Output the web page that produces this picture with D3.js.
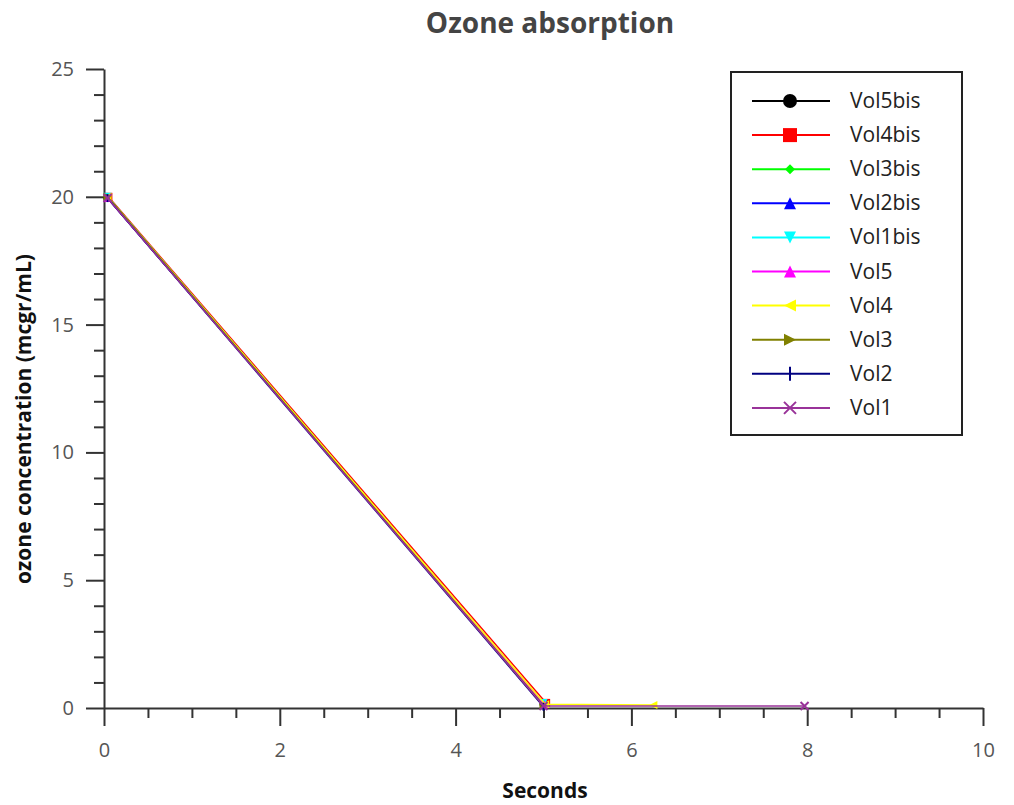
<!DOCTYPE html>
<html>
<head>
<meta charset="utf-8">
<script src="https://cdn.jsdelivr.net/npm/d3@7"></script>
<style>
  body { margin: 0; background: #fff; }
  text { font-family: "Open Sans", "DejaVu Sans", sans-serif; }
</style>
</head>
<body>
<div id="chart"></div>
<script>
// data
const seriesNames = ["Vol5bis", "Vol4bis", "Vol3bis", "Vol2bis", "Vol1bis", "Vol5", "Vol4", "Vol3", "Vol2", "Vol1"];
const seriesColors = ["#000000", "#ff0000", "#00ff00", "#0000ff", "#00ffff", "#ff00ff", "#ffff00", "#808000", "#000080", "#993399"];
const seriesMarkers = ["circle", "square", "diamond", "triangleUp", "triangleDown", "triangleUp", "triangleLeft", "triangleRight", "plus", "cross"];
const seriesX = [
  [0.04, 5.0],
  [0.05, 5.03],
  [0.04, 5.0],
  [0.04, 5.0],
  [0.04, 5.0],
  [0.04, 5.01],
  [0.04, 5.02, 6.25],
  [0.04, 5.0],
  [0.04, 5.0],
  [0.04, 5.0, 7.97]
];
const seriesY = [
  [19.95, 0.15],
  [20.0, 0.2],
  [20.0, 0.15],
  [19.95, 0.15],
  [20.0, 0.2],
  [19.95, 0.15],
  [20.0, 0.15, 0.12],
  [20.0, 0.1],
  [19.95, 0.05],
  [19.95, 0.08, 0.08]
];
const xTicks = [0, 2, 4, 6, 8, 10];
const yTicks = [0, 5, 10, 15, 20, 25];

const width = 1014, height = 805;
const margin = { top: 69, left: 104, right: 31, bottom: 97 };

const svg = d3.select("#chart").append("svg")
  .attr("width", width)
  .attr("height", height);

const xScale = d3.scaleLinear().domain([0, 10]).range([margin.left, width - margin.right]);
const yScale = d3.scaleLinear().domain([0, 25]).range([height - margin.bottom, margin.top]);

// axes: major ticks with labels, then minor ticks
const axisColor = "#333";
svg.append("g")
  .attr("transform", `translate(0,${height - margin.bottom})`)
  .call(d3.axisBottom(xScale).tickValues(xTicks).tickSize(18).tickPadding(17).tickSizeOuter(0));
svg.append("g")
  .attr("transform", `translate(0,${height - margin.bottom})`)
  .call(d3.axisBottom(xScale).tickValues(d3.range(0, 10.01, 0.5).filter(v => v % 2 !== 0)).tickSize(10).tickFormat("").tickSizeOuter(0))
  .select(".domain").remove();

svg.append("g")
  .attr("transform", `translate(${margin.left},0)`)
  .call(d3.axisLeft(yScale).tickValues(yTicks).tickSize(18).tickPadding(12).tickSizeOuter(0));
svg.append("g")
  .attr("transform", `translate(${margin.left},0)`)
  .call(d3.axisLeft(yScale).tickValues(d3.range(0, 25.01, 1).filter(v => v % 5 !== 0)).tickSize(10).tickFormat("").tickSizeOuter(0))
  .select(".domain").remove();

svg.selectAll(".domain").attr("stroke", axisColor).attr("stroke-width", 2);
svg.selectAll(".tick line").attr("stroke", axisColor).attr("stroke-width", 2);
svg.selectAll(".tick text").attr("fill", "#555").style("font-size", "20px");

// titles
svg.append("text")
  .attr("x", 550).attr("y", 33)
  .attr("text-anchor", "middle")
  .attr("fill", "#444")
  .style("font-size", "28px").style("font-weight", "bold")
  .text("Ozone absorption");

svg.append("text")
  .attr("x", 545).attr("y", 798)
  .attr("text-anchor", "middle")
  .attr("fill", "#111")
  .style("font-size", "21px").style("font-weight", "bold")
  .text("Seconds");

svg.append("text")
  .attr("transform", "rotate(-90)")
  .attr("x", -419).attr("y", 31)
  .attr("text-anchor", "middle")
  .attr("fill", "#111")
  .style("font-size", "21px").style("font-weight", "bold")
  .text("ozone concentration (mcgr/mL)");

// markers
function marker(g, type, color, size) {
  const s = size;
  if (type === "circle") {
    g.append("circle").attr("r", s).attr("fill", color);
  } else if (type === "square") {
    g.append("rect").attr("x", -s).attr("y", -s).attr("width", 2 * s).attr("height", 2 * s).attr("fill", color);
  } else if (type === "diamond") {
    g.append("path").attr("d", `M0,${-s}L${s},0L0,${s}L${-s},0Z`).attr("fill", color);
  } else if (type === "triangleUp") {
    g.append("path").attr("d", `M0,${-s}L${s},${s}L${-s},${s}Z`).attr("fill", color);
  } else if (type === "triangleDown") {
    g.append("path").attr("d", `M0,${s}L${s},${-s}L${-s},${-s}Z`).attr("fill", color);
  } else if (type === "triangleLeft") {
    g.append("path").attr("d", `M${-s},0L${s},${-s}L${s},${s}Z`).attr("fill", color);
  } else if (type === "triangleRight") {
    g.append("path").attr("d", `M${s},0L${-s},${-s}L${-s},${s}Z`).attr("fill", color);
  } else if (type === "plus") {
    g.append("path").attr("d", `M0,${-s}V${s}`).attr("stroke", color).attr("stroke-width", 2);
  } else if (type === "cross") {
    g.append("path").attr("d", `M${-s},${-s}L${s},${s}M${s},${-s}L${-s},${s}`).attr("stroke", color).attr("stroke-width", 2);
  }
}

const line = d3.line()
  .x(d => xScale(d[0]))
  .y(d => yScale(d[1]));

seriesNames.forEach(function (name, i) {
  const pts = seriesX[i].map((x, j) => [x, seriesY[i][j]]);
  svg.append("path")
    .datum(pts)
    .attr("d", line)
    .attr("fill", "none")
    .attr("stroke", seriesColors[i])
    .attr("stroke-width", 1.5);
  pts.forEach(function (p) {
    const g = svg.append("g").attr("transform", `translate(${xScale(p[0])},${yScale(p[1])})`);
    marker(g, seriesMarkers[i], seriesColors[i], 4);
  });
});

// legend
const legend = svg.append("g");
legend.append("rect")
  .attr("x", 731).attr("y", 72)
  .attr("width", 231).attr("height", 363)
  .attr("fill", "#fff").attr("stroke", "#222").attr("stroke-width", 2);

const legendSizes = { circle: 7, square: 7, diamond: 5, triangleUp: 6, triangleDown: 6, triangleLeft: 6, triangleRight: 6, plus: 7, cross: 6 };
seriesNames.forEach(function (name, i) {
  const y = 101 + i * 34.1;
  legend.append("line")
    .attr("x1", 752).attr("x2", 830)
    .attr("y1", y).attr("y2", y)
    .attr("stroke", seriesColors[i]).attr("stroke-width", 2);
  const g = legend.append("g").attr("transform", `translate(790,${y})`);
  marker(g, seriesMarkers[i], seriesColors[i], legendSizes[seriesMarkers[i]]);
  legend.append("text")
    .attr("x", 850).attr("y", y + 7)
    .attr("fill", "#222")
    .style("font-size", "21px")
    .text(name);
});
</script>
</body>
</html>
